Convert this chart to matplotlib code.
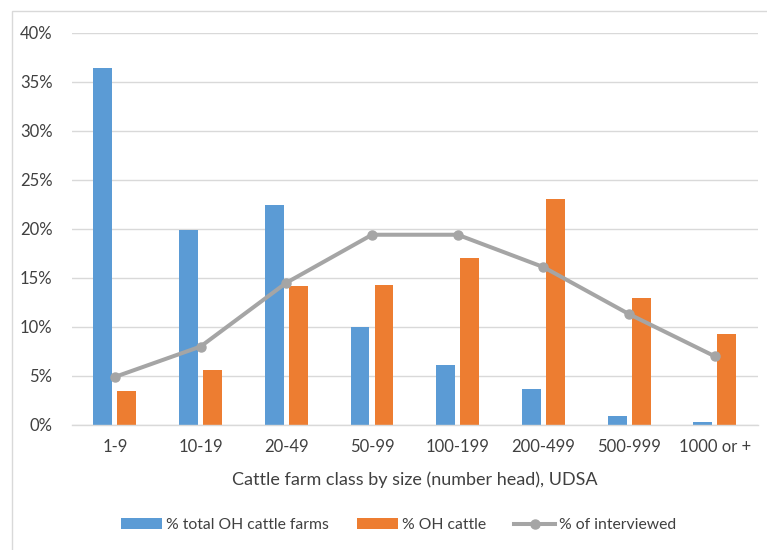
import matplotlib
matplotlib.use("Agg")
import matplotlib.pyplot as plt
import numpy as np
from matplotlib.ticker import FuncFormatter
from matplotlib.patches import Rectangle

plt.rcParams['font.family'] = ['Lato', 'DejaVu Sans']

categories = ["1-9", "10-19", "20-49", "50-99", "100-199", "200-499", "500-999", "1000 or +"]
pct_farms = [36.4, 19.9, 22.4, 10.0, 6.1, 3.7, 0.95, 0.35]
pct_cattle = [3.5, 5.6, 14.2, 14.3, 17.0, 23.0, 13.0, 9.3]
pct_interviewed = [4.9, 8.0, 14.5, 19.4, 19.4, 16.1, 11.3, 7.0]

blue = "#5B9BD5"
orange = "#ED7D31"
gray = "#A5A5A5"
text_color = "#404040"

fig = plt.figure(figsize=(7.67, 5.5), dpi=100)
ax = fig.add_axes([0.0939, 0.2273, 0.894, 0.7132])

# light frame around the chart area
fig.patches.append(Rectangle((12 / 767, -0.1), 1.2, 1 - 11 / 550 + 0.1,
                             transform=fig.transFigure, fill=False,
                             edgecolor="#D9D9D9", linewidth=1.0))

x = np.arange(len(categories))
w = 0.22
off = 0.14
b1 = ax.bar(x - off, pct_farms, width=w, color=blue, label="% total OH cattle farms", zorder=2)
b2 = ax.bar(x + off, pct_cattle, width=w, color=orange, label="% OH cattle", zorder=2)
ln, = ax.plot(x, pct_interviewed, color=gray, linewidth=2.9, marker="o", markersize=6.5,
              label="% of interviewed", zorder=3)

ax.set_xlim(-0.5, len(categories) - 0.5)
ax.set_ylim(0, 40)
ax.set_yticks(np.arange(0, 41, 5))
ax.yaxis.set_major_formatter(FuncFormatter(lambda v, p: f"{v:.0f}%"))
ax.set_xticks(x)
ax.set_xticklabels(categories)

ax.grid(axis="y", color="#D9D9D9", linewidth=1.0, zorder=0)
ax.set_axisbelow(True)
for s in ["top", "right", "left"]:
    ax.spines[s].set_visible(False)
ax.spines["bottom"].set_color("#D9D9D9")
ax.spines["bottom"].set_linewidth(1.0)
ax.tick_params(axis="both", length=0, labelsize=12, colors=text_color)
ax.tick_params(axis="x", pad=10)
ax.tick_params(axis="y", pad=14)

ax.set_xlabel("Cattle farm class by size (number head), UDSA", fontsize=13,
              color=text_color, labelpad=12)

leg = fig.legend(handles=[b1, b2, ln], loc="center", bbox_to_anchor=(0.52, 1 - 525 / 550),
                 ncol=3, frameon=False, fontsize=11.3, handlelength=2.6, handletextpad=0.25,
                 columnspacing=1.8)
for t in leg.get_texts():
    t.set_color(text_color)

fig.savefig("out.png", dpi=100)
